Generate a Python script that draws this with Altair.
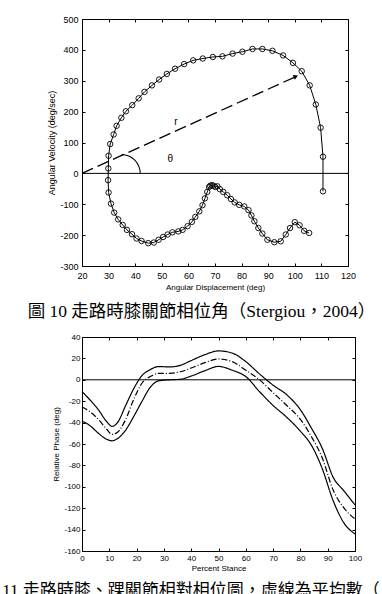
import altair as alt
import pandas as pd

# ---------------- Figure 10: knee phase portrait ----------------
# trajectory order: lower loop (right -> left), then upper arc (left -> right)
traj_disp = [105.4, 103.5, 101.8, 100.0, 98.2, 96.6, 94.7, 92.3, 89.7, 87.8,
             86.3, 84.8, 83.7, 82.6, 81.0, 79.1, 77.4, 76.0, 74.6, 73.1,
             71.8, 70.9, 70.1, 69.4, 68.8, 68.2, 67.8, 67.1, 66.2, 65.3,
             64.1, 62.6, 61.3, 59.7, 57.8, 56.2, 54.0, 52.2, 50.5, 48.8,
             47.0, 44.9, 42.4, 40.5, 38.8, 36.9, 35.3, 33.6, 32.1, 30.9,
             30.0, 29.8,
             29.9, 30.0, 30.6, 31.9, 33.0, 34.8, 36.5, 38.9, 41.3, 43.5,
             46.3, 49.0, 51.9, 55.0, 58.4, 61.8, 65.4, 69.2, 72.8, 76.6,
             80.3, 84.1, 87.8, 91.6, 95.6, 99.3, 102.6, 105.6, 107.9, 109.7,
             110.6, 110.6]
traj_vel = [-193, -186, -168, -158, -177, -198, -220, -223, -215, -195,
            -177, -155, -136, -119, -107, -102, -94, -83, -71, -60,
            -51, -42, -44, -40, -38, -40, -44, -60, -81, -103,
            -123, -141, -157, -171, -183, -188, -191, -198, -206, -215,
            -224, -226, -219, -211, -197, -183, -167, -149, -127, -98,
            -62, -22,
            16, 57, 95, 126, 154, 180, 201, 221, 243, 264,
            285, 304, 322, 339, 354, 366, 372, 377, 379, 388,
            394, 403, 403, 397, 382, 358, 331, 285, 223, 148,
            54, -58]

ray_disp = [20, 100.0]
ray_vel = [0, 312]
arrow_disp = [100.4]
arrow_vel = [314]
note_text = ["r", "θ"]
note_disp = [55.3, 53.2]
note_vel = [167, 45]
arc_disp = [34.75]
arc_vel = [0]

# ---------------- Figure 11: relative phase ----------------
rel_x = [0, 3, 6, 9, 11, 13, 16, 19, 22, 25, 28, 32, 36, 40, 45, 50, 55,
         60, 65, 70, 75, 80, 84, 88, 92, 96, 100]
rel_upper = [-11, -19, -28, -39, -43.5, -40, -24, -8, 4, 9.5, 12.4, 12, 13.5,
             18, 23.5, 27, 25, 17, 5.5, -5, -14, -28, -45, -64, -91, -104, -117]
rel_mean = [-25.5, -30, -37, -46, -51, -49, -37, -18, -3, 3, 6, 6, 7.5,
            11, 16, 19.5, 17, 9, 0, -12, -24, -37, -53, -73, -103, -120, -130]
rel_lower = [-38.6, -43, -50, -55.5, -57, -55, -47, -34, -20, -7, -1, 0, 0.5,
             3.5, 8.5, 12.5, 9, 3, -11, -24, -35, -48, -61, -83, -113, -134, -144]

caption1 = "圖 10 走路時膝關節相位角（Stergiou，2004）"
caption2 = "圖 11 走路時膝、踝關節相對相位圖，虛線為平均數（"

AX_FONT = "Liberation Sans"
CAP_FONT = "Liberation Serif, Noto Sans CJK TC"

df_traj = pd.DataFrame({"disp": traj_disp, "vel": traj_vel,
                        "order": list(range(len(traj_disp)))})
df_ray = pd.DataFrame({"disp": ray_disp, "vel": ray_vel})
df_arrow = pd.DataFrame({"disp": arrow_disp, "vel": arrow_vel})
df_note = pd.DataFrame({"disp": note_disp, "vel": note_vel, "t": note_text})
df_arc = pd.DataFrame({"disp": arc_disp, "vel": arc_vel})
df_zero = pd.DataFrame({"v": [0]})

xs1 = alt.Scale(domain=[20, 120], nice=False, zero=False)
ys1 = alt.Scale(domain=[-300, 500], nice=False, zero=False)

common_tick = dict(offset=-3, tickSize=3, domain=False, grid=False,
                   tickColor="black", tickWidth=1)

ax1_bottom = alt.Axis(orient="bottom", values=list(range(20, 121, 10)),
                      labelFlush=False, labelPadding=5, labelFontSize=9,
                      labelFont=AX_FONT, labelColor="black",
                      labelExpr="'' + datum.value",
                      title="Angular Displacement (deg)", titleFont=AX_FONT,
                      titleFontSize=8, titleFontWeight="normal",
                      titleColor="black", titlePadding=3, **common_tick)
ax1_left = alt.Axis(orient="left", values=list(range(-300, 501, 100)),
                    labelPadding=4, labelFontSize=9, labelFont=AX_FONT,
                    labelColor="black", labelExpr="'' + datum.value",
                    title="Angular Velocity (deg/sec)", titleFont=AX_FONT,
                    titleFontSize=9, titleFontWeight="normal",
                    titleColor="black", titlePadding=3, **common_tick)
ax1_top = alt.Axis(orient="top", values=list(range(20, 121, 10)),
                   labels=False, title=None, **common_tick)
ax1_right = alt.Axis(orient="right", values=list(range(-300, 501, 100)),
                     labels=False, title=None, **common_tick)

line1 = alt.Chart(df_traj).mark_line(color="black", strokeWidth=1).encode(
    x=alt.X("disp:Q", scale=xs1, axis=ax1_bottom),
    y=alt.Y("vel:Q", scale=ys1, axis=ax1_left),
    order="order:Q")
pts1 = alt.Chart(df_traj).mark_point(shape="circle", filled=False, size=30,
                                     color="black", strokeWidth=0.9, opacity=1).encode(
    x=alt.X("disp:Q", scale=xs1, axis=ax1_top),
    y=alt.Y("vel:Q", scale=ys1, axis=ax1_right))
zero1 = alt.Chart(df_zero).mark_rule(color="black", strokeWidth=1).encode(
    y=alt.Y("v:Q", scale=ys1, axis=None))
ray1 = alt.Chart(df_ray).mark_line(color="black", strokeWidth=1.3,
                                   strokeDash=[12, 5]).encode(
    x=alt.X("disp:Q", scale=xs1, axis=None),
    y=alt.Y("vel:Q", scale=ys1, axis=None))
arrow1 = alt.Chart(df_arrow).mark_point(shape="triangle-right", filled=True,
                                        size=28, angle=336, color="black",
                                        opacity=1).encode(
    x=alt.X("disp:Q", scale=xs1, axis=None),
    y=alt.Y("vel:Q", scale=ys1, axis=None))
note1 = alt.Chart(df_note).mark_text(font=AX_FONT, fontSize=10,
                                     color="black").encode(
    x=alt.X("disp:Q", scale=xs1, axis=None),
    y=alt.Y("vel:Q", scale=ys1, axis=None),
    text="t:N")
arc1 = alt.Chart(df_arc).mark_arc(radius=19.5, radius2=18.5, theta=0.02,
                                  theta2=1.5708, color="black").encode(
    x=alt.X("disp:Q", scale=xs1, axis=None),
    y=alt.Y("vel:Q", scale=ys1, axis=None))

top = alt.layer(line1, pts1, zero1, ray1, arrow1, note1, arc1).resolve_axis(
    x="independent", y="independent").properties(
    width=266, height=247,
    title=alt.TitleParams(text=caption1, orient="bottom", anchor="middle",
                          frame="group", offset=12, dx=-13.5, font=CAP_FONT,
                          fontSize=17.5, fontWeight="normal", color="black"))

# ---------------- bottom chart ----------------
rows = []
for name, vals in (("upper", rel_upper), ("mean", rel_mean), ("lower", rel_lower)):
    for xv, yv in zip(rel_x, vals):
        rows.append({"pct": xv, "phase": yv, "series": name})
df_rel = pd.DataFrame(rows)

xs2 = alt.Scale(domain=[0, 100], nice=False, zero=False)
ys2 = alt.Scale(domain=[-160, 40], nice=False, zero=False)

ax2_bottom = alt.Axis(orient="bottom", values=list(range(0, 101, 10)),
                      labelFlush=False, labelPadding=3, labelFontSize=8,
                      labelFont=AX_FONT, labelColor="black",
                      labelExpr="'' + datum.value",
                      title="Percent Stance", titleFont=AX_FONT,
                      titleFontSize=8, titleFontWeight="normal",
                      titleColor="black", titlePadding=2, **common_tick)
ax2_left = alt.Axis(orient="left", values=list(range(-160, 41, 20)),
                    labelPadding=2, labelFontSize=8, labelFont=AX_FONT,
                    labelColor="black", labelExpr="'' + datum.value",
                    title="Relative Phase (deg)", titleFont=AX_FONT,
                    titleFontSize=8, titleFontWeight="normal",
                    titleColor="black", titlePadding=3, **common_tick)
ax2_top = alt.Axis(orient="top", values=list(range(0, 101, 10)),
                   labels=False, title=None, **common_tick)
ax2_right = alt.Axis(orient="right", values=list(range(-160, 41, 20)),
                     labels=False, title=None, **common_tick)

lines2 = alt.Chart(df_rel).mark_line(color="black", strokeWidth=1.2,
                                     interpolate="monotone").encode(
    x=alt.X("pct:Q", scale=xs2, axis=ax2_bottom),
    y=alt.Y("phase:Q", scale=ys2, axis=ax2_left),
    detail="series:N",
    strokeDash=alt.StrokeDash("series:N", legend=None,
                              scale=alt.Scale(domain=["upper", "mean", "lower"],
                                              range=[[1, 0], [6, 2, 1, 2], [1, 0]])))
ticks2 = alt.Chart(df_rel).mark_point(opacity=0).encode(
    x=alt.X("pct:Q", scale=xs2, axis=ax2_top),
    y=alt.Y("phase:Q", scale=ys2, axis=ax2_right))
zero2 = alt.Chart(df_zero).mark_rule(color="black", strokeWidth=1).encode(
    y=alt.Y("v:Q", scale=ys2, axis=None))

bottom = alt.layer(lines2, ticks2, zero2).resolve_axis(
    x="independent", y="independent").properties(
    width=273, height=214,
    title=alt.TitleParams(text=caption2, orient="bottom", anchor="start",
                          frame="group", offset=11, dx=-101, font=CAP_FONT,
                          fontSize=17, fontWeight="normal", color="black"))

chart = alt.vconcat(top, bottom, spacing=71, bounds="flush").properties(
    padding={"left": 82, "top": 19, "right": 300, "bottom": 575},
    autosize=alt.AutoSizeParams(type="none"),
    background="white",
).configure_view(stroke="black", strokeWidth=1)

chart.save("out.html", embed_options={"renderer": "svg", "actions": False})
